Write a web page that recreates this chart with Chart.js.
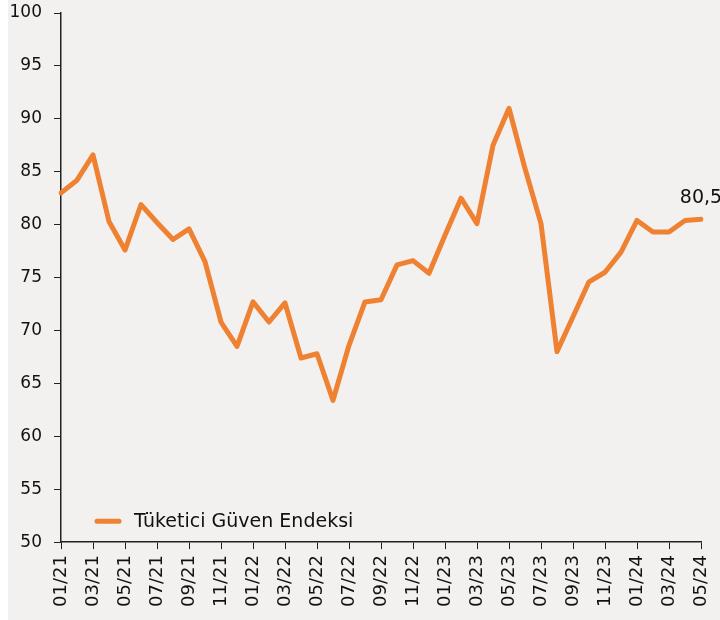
<!DOCTYPE html>
<html>
<head>
<meta charset="utf-8">
<script src="https://cdn.jsdelivr.net/npm/chart.js@4"></script>
<style>
  html, body { margin: 0; padding: 0; background: #ffffff; }
  #wrap { width: 720px; height: 620px; position: relative; }
</style>
</head>
<body>
<div id="wrap"><canvas id="myChart" width="720" height="620"></canvas></div>
<script>
const monthLabels = [
  "01/21", "02/21", "03/21", "04/21", "05/21", "06/21", "07/21", "08/21", "09/21", "10/21", "11/21", "12/21",
  "01/22", "02/22", "03/22", "04/22", "05/22", "06/22", "07/22", "08/22", "09/22", "10/22", "11/22", "12/22",
  "01/23", "02/23", "03/23", "04/23", "05/23", "06/23", "07/23", "08/23", "09/23", "10/23", "11/23", "12/23",
  "01/24", "02/24", "03/24", "04/24", "05/24",
];

const guvenEndeksi = [
  83.0, 84.2, 86.6, 80.3, 77.6, 81.9, 80.2, 78.6, 79.6, 76.5, 70.8, 68.5,
  72.7, 70.8, 72.6, 67.4, 67.8, 63.4, 68.6, 72.7, 72.9, 76.2, 76.6, 75.4,
  79.0, 82.5, 80.1, 87.5, 91.0, 85.3, 80.1, 68.0, 71.3, 74.6, 75.5, 77.4,
  80.4, 79.3, 79.3, 80.4, 80.5,
];

const seriesName = "Tüketici Güven Endeksi";
const yTicks = [50, 55, 60, 65, 70, 75, 80, 85, 90, 95, 100];

const orange = "#ef8132";
const fontFamily = "'DejaVu Sans', sans-serif";

// gray panel behind the chart, with a thin white strip on the left
const panelBg = {
  id: "panelBg",
  beforeDraw(chart) {
    const { ctx, width, height } = chart;
    ctx.save();
    ctx.fillStyle = "#f2f1ef";
    ctx.fillRect(8, 0, width - 8, height);
    ctx.restore();
  },
};

// legend inside the plot, bottom left
const innerLegend = {
  id: "innerLegend",
  afterDatasetsDraw(chart) {
    const { ctx, chartArea } = chart;
    const y = chartArea.bottom - 21;
    const x = chartArea.left + 36;
    ctx.save();
    ctx.strokeStyle = orange;
    ctx.lineWidth = 5;
    ctx.lineCap = "round";
    ctx.beginPath();
    ctx.moveTo(x, y);
    ctx.lineTo(x + 22, y);
    ctx.stroke();
    ctx.fillStyle = "#111";
    ctx.font = "19px " + fontFamily;
    ctx.textBaseline = "middle";
    ctx.fillText(chart.data.datasets[0].label, x + 37, y + 1);
    ctx.restore();
  },
};

// value label above the last point
const lastValue = {
  id: "lastValue",
  afterDatasetsDraw(chart) {
    const meta = chart.getDatasetMeta(0);
    const data = chart.data.datasets[0].data;
    const i = data.length - 1;
    const pt = meta.data[i];
    const { ctx } = chart;
    ctx.save();
    ctx.fillStyle = "#111";
    ctx.font = "19px " + fontFamily;
    ctx.textAlign = "center";
    ctx.textBaseline = "bottom";
    ctx.fillText(data[i].toFixed(1).replace(".", ","), pt.x, pt.y - 12);
    ctx.restore();
  },
};

const everyOther = (ctx) => (ctx.index % 2 === 0 ? "#222" : "rgba(0,0,0,0)");

const ctx = document.getElementById("myChart").getContext("2d");
new Chart(ctx, {
  type: "line",
  data: {
    labels: monthLabels,
    datasets: [
      {
        label: seriesName,
        data: guvenEndeksi,
        borderColor: orange,
        backgroundColor: orange,
        borderWidth: 5,
        borderJoinStyle: "round",
        borderCapStyle: "round",
        pointRadius: 0,
        tension: 0,
      },
    ],
  },
  options: {
    responsive: false,
    animation: false,
    layout: { padding: { left: 9, top: 13, right: 19, bottom: 7 } },
    plugins: {
      legend: { display: false },
      tooltip: { enabled: false },
    },
    scales: {
      x: {
        offset: false,
        afterFit: (axis) => {
          axis.paddingLeft = 0;
          axis.paddingRight = 0;
        },
        border: { color: "#222", width: 1.5 },
        grid: {
          drawOnChartArea: false,
          drawTicks: true,
          tickLength: 7,
          color: everyOther,
        },
        ticks: {
          autoSkip: false,
          minRotation: 90,
          maxRotation: 90,
          padding: 6,
          color: "#111",
          font: { family: fontFamily, size: 18 },
          callback: (v, i) => (i % 2 === 0 ? monthLabels[i] : ""),
        },
      },
      y: {
        min: yTicks[0],
        max: yTicks[yTicks.length - 1],
        afterBuildTicks: (axis) => {
          axis.ticks = yTicks.map((v) => ({ value: v }));
        },
        afterFit: (axis) => {
          axis.width = 52;
          axis.paddingTop = 0;
          axis.paddingBottom = 0;
        },
        border: { color: "#222", width: 1.5 },
        grid: {
          drawOnChartArea: false,
          drawTicks: true,
          tickLength: 7,
          color: "#222",
        },
        ticks: {
          padding: 12,
          color: "#111",
          font: { family: fontFamily, size: 17 },
        },
      },
    },
  },
  plugins: [panelBg, innerLegend, lastValue],
});
</script>
</body>
</html>
